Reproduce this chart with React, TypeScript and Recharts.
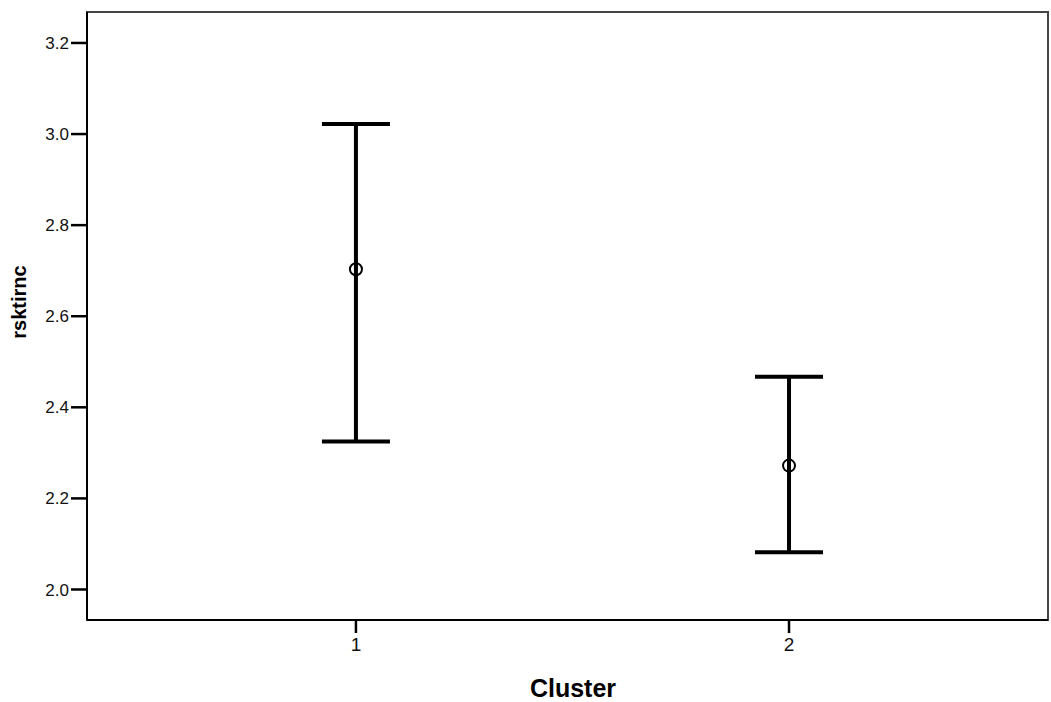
import React from "react";
import {
  ComposedChart,
  Scatter,
  ErrorBar,
  XAxis,
  YAxis,
  Label,
  ReferenceArea,
} from "recharts";

// cluster means with 95% CI bounds
const clusters = [1, 2];
const means = [2.703, 2.272];
const lower = [2.325, 2.082];
const upper = [3.022, 2.467];
const yTicks = [2.0, 2.2, 2.4, 2.6, 2.8, 3.0, 3.2];
const xTicks = [1, 2];
const xDomain = [0.379, 2.598];
const yDomain = [1.933, 3.268];

const data = clusters.map((c, i) => ({
  cluster: c,
  mean: means[i],
  err: [means[i] - lower[i], upper[i] - means[i]],
}));

const font = "'Liberation Sans', Arial, sans-serif";

const MeanDot = (props: any) => {
  const { cx, cy } = props;
  return <circle cx={cx} cy={cy} r={6} fill="none" stroke="#000" strokeWidth={2} />;
};

export default function App() {
  return (
    <div style={{ position: "absolute", left: 0, top: 0, background: "#fff" }}>
      <ComposedChart
        width={1051}
        height={702}
        data={data}
        margin={{ top: 12, right: 3, bottom: 0, left: 0 }}
      >
        <XAxis
          type="number"
          dataKey="cluster"
          domain={xDomain}
          ticks={xTicks}
          allowDataOverflow
          height={82}
          axisLine={{ stroke: "#000", strokeWidth: 2 }}
          tickLine={{ stroke: "#000", strokeWidth: 2.5 }}
          tickSize={13}
          tickMargin={5}
          tick={{ fill: "#111", fontSize: 19, fontFamily: font }}
        >
          <Label
            content={({ viewBox }: any) => (
              <text
                x={573}
                y={viewBox.y + 68}
                textAnchor="middle"
                dominantBaseline="central"
                fontFamily={font}
                fontWeight="bold"
                fontSize={25}
                fill="#000"
              >
                Cluster
              </text>
            )}
          />
        </XAxis>
        <YAxis
          type="number"
          domain={yDomain}
          ticks={yTicks}
          allowDataOverflow
          width={87}
          tickFormatter={(v: number) => v.toFixed(1)}
          axisLine={{ stroke: "#000", strokeWidth: 2 }}
          tickLine={{ stroke: "#000", strokeWidth: 2.5 }}
          tickSize={16}
          tickMargin={2}
          tick={{ fill: "#111", fontSize: 17, fontFamily: font }}
        >
          <Label
            content={() => {
              const x = 19;
              const y = 302;
              return (
                <text
                  x={x}
                  y={y}
                  transform={`rotate(-90 ${x} ${y})`}
                  textAnchor="middle"
                  dominantBaseline="central"
                  fontFamily={font}
                  fontWeight="bold"
                  fontSize={20}
                  fill="#000"
                >
                  rsktirnc
                </text>
              );
            }}
          />
        </YAxis>
        <ReferenceArea
          x1={xDomain[0]}
          x2={xDomain[1]}
          y1={yDomain[0]}
          y2={yDomain[1]}
          fill="none"
          stroke="#444"
          strokeWidth={2}
          ifOverflow="visible"
        />
        <Scatter dataKey="mean" shape={<MeanDot />} isAnimationActive={false}>
          <ErrorBar
            dataKey="err"
            direction="y"
            width={34}
            stroke="#000"
            strokeWidth={4}
            isAnimationActive={false}
          />
        </Scatter>
      </ComposedChart>
    </div>
  );
}
